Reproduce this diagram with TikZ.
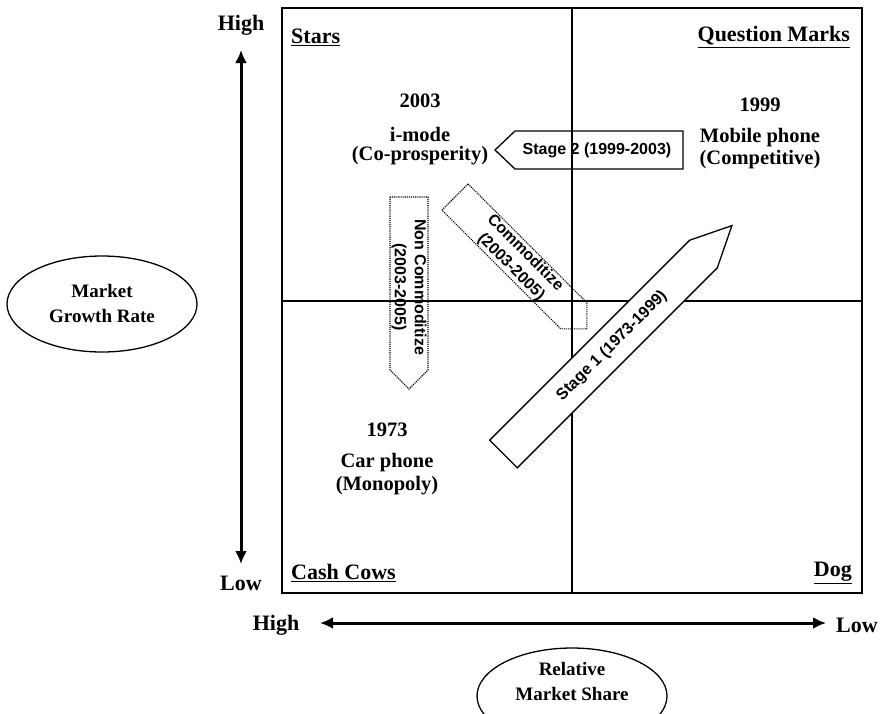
\documentclass[tikz,border=0pt]{standalone}
\usepackage{fontspec}
\setmainfont{Liberation Serif}
\newfontfamily\arwfont{Liberation Sans}
\usetikzlibrary{arrows.meta,shapes.geometric}
\begin{document}
\begin{tikzpicture}[x=1pt,y=-1pt,
  lbl/.style={font=\fontsize{20.5}{23}\selectfont\bfseries, align=center, inner sep=0pt},
  quad/.style={font=\fontsize{22}{24}\selectfont\bfseries, inner sep=0pt},
  axl/.style={font=\fontsize{22}{24}\selectfont\bfseries, inner sep=0pt},
  arrtxt/.style={font=\arwfont\fontsize{16}{20}\selectfont\bfseries, align=center, inner sep=0pt},
  solidarrow/.style={draw, line width=1.3pt, line join=miter},
  dotarrow/.style={draw, line width=1.1pt, densely dotted},
  axisarrow/.style={line width=3pt, {Latex[length=13pt,width=12pt]}-{Latex[length=13pt,width=12pt]}},
  oval/.style={draw, ellipse, line width=1.3pt, minimum width=190pt, minimum height=96pt, inner sep=0pt},
  ovaltxt/.style={align=center, inner sep=0pt, font=\fontsize{19}{25}\selectfont\bfseries}
]
\useasboundingbox (0,0) rectangle (888,713);
\clip (0,0) rectangle (888,713);

% matrix frame
\draw[line width=1.5pt] (282,8) rectangle (862,593);
\coordinate (mt) at (572,8);
\coordinate (mb) at (572,593);
\coordinate (ml) at (282,301);
\coordinate (mr) at (862,301);
\draw[line width=1.3pt] (mt) -- (mb);
\draw[line width=1.3pt] (ml) -- (mr);

% quadrant titles
\node[quad, anchor=west] (stars) at (291,37) {\underline{Stars}};
\node[quad, anchor=east] (qm) at (850,37) {\underline{Question Marks}};
\node[quad, anchor=west] (cc) at (291,573) {\underline{Cash Cows}};
\node[quad, anchor=east] (dog) at (852,573) {\underline{Dog}};

% vertical axis
\node[axl] (yhigh) at (241,25) {High};
\node[axl] (ylow) at (241,583) {Low};
\coordinate (vtop) at (241,50);
\coordinate (vbot) at (241,564);
\draw[axisarrow] (vtop) -- (vbot);

% horizontal axis
\node[axl] (xhigh) at (276,625) {High};
\node[axl] (xlow) at (857,625) {Low};
\coordinate (hl) at (320,623);
\coordinate (hr) at (826,623);
\draw[axisarrow] (hl) -- (hr);

% axis ovals
\node[oval] (mgr) at (102,304) {};
\node[ovaltxt] (mgrtxt) at (102,303) {Market\\Growth Rate};
\node[oval] (rms) at (572,696) {};
\node[ovaltxt] (rmstxt) at (572,681) {Relative\\Market Share};

% states
\node[lbl] (t2003) at (420,101) {2003};
\node[lbl] (imode) at (420,134) {i-mode};
\node[lbl] (cop) at (420,156) {(Co-prosperity)};

\node[lbl] (t1999) at (760,105) {1999};
\node[lbl] (mob) at (760,138) {Mobile phone};
\node[lbl] (comp) at (760,160) {(Competitive)};

\node[lbl] (t1973) at (387,430) {1973};
\node[lbl] (car) at (387,463) {Car phone};
\node[lbl] (mono) at (387,486) {(Monopoly)};

% Stage 2 arrow (pointing left)
\draw[solidarrow] (683,131) -- (515,131) -- (495,150) -- (515,169) -- (683,169) -- cycle;
\node[arrtxt] (s2) at (597,150) {Stage 2 (1999-2003)};

% Non commoditize arrow (pointing down)
\draw[dotarrow] (390,197) -- (428,197) -- (428,370) -- (409,389) -- (390,370) -- cycle;
\node[arrtxt, rotate=-90] (ncom) at (409,287) {Non Commoditize\\(2003-2005)};

% Commoditize arrow (pointing down-right)
\draw[dotarrow] (468.1,183.9) -- (586.9,302.7) -- (586.9,328.9) -- (560.7,328.9) -- (441.9,210.1) -- cycle;
\node[arrtxt, rotate=-45] (com) at (518,260) {Commoditize\\(2003-2005)};

% Stage 1 arrow (pointing up-right)
\draw[solidarrow, fill=white] (489.7,440.2) -- (689.7,240.2) -- (731.9,225.6) -- (717.3,267.8) -- (517.3,467.8) -- cycle;
\node[arrtxt, rotate=45] (s1) at (612,346) {Stage 1 (1973-1999)};
\end{tikzpicture}
\end{document}
